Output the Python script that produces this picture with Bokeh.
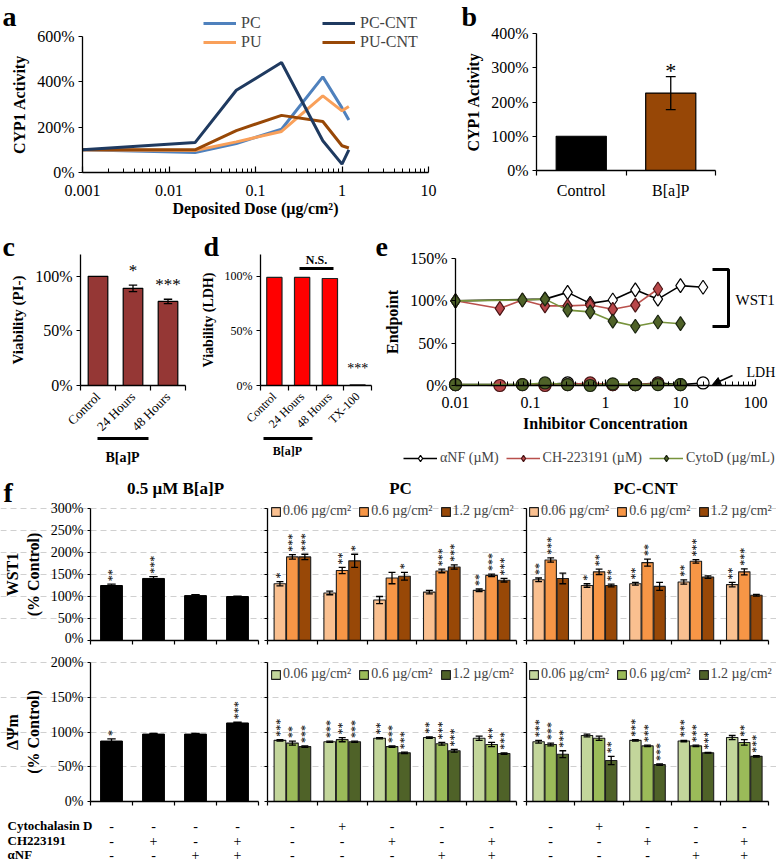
import numpy as np
from bokeh.plotting import figure
from bokeh.models import (ColumnDataSource, FixedTicker, Label, LabelSet, Legend, LegendItem,
                          Arrow, NormalHead, PrintfTickFormatter, CustomJSTickFormatter, Range1d)
from bokeh.layouts import column, row
from bokeh.core.properties import value
from bokeh.embed import file_html
from bokeh.resources import INLINE

K = 1.0
FONT = "Liberation Serif"
LEG_DY = 9  # offset from a legend's bottom edge to the centre of its bottom row

# ---------------- data ----------------
# panel a
a_dose = [0.001, 0.02, 0.06, 0.2, 0.6, 1.0, 1.2]
a_pc = [100, 88, 128, 191, 422, 285, 232]
a_pu = [100, 97, 135, 181, 338, 272, 291]
a_pc_cnt = [100, 132, 363, 485, 140, 37, 100]
a_pu_cnt = [100, 100, 185, 252, 225, 118, 108]
a_xticks = [0.001, 0.01, 0.1, 1, 10]
a_yticks = [0, 200, 400, 600]

# panel b
b_cats = ["Control", "B[a]P"]
b_vals = [100, 226]
b_err = [0, 48]
b_stars = ["", "*"]
b_yticks = [0, 100, 200, 300, 400]

# panel c
c_cats = ["Control", "24 Hours", "48 Hours"]
c_vals = [100, 89, 77]
c_err = [0, 3, 2]
c_stars = ["", "*", "***"]

# panel d
d_cats = ["Control", "24 Hours", "48 Hours", "TX-100"]
d_vals = [99, 99, 98, 0.5]
d_err = [0.3, 0.3, 0.5, 0.2]
d_stars = ["", "", "", "***"]
cd_yticks = [0, 50, 100]

# panel e
e_anf_x = [0.01, 0.156, 0.3125, 0.625, 1.25, 2.5, 5, 10, 20]
e_anf_wst = [100, 102, 110, 97, 101, 113, 102, 118, 116]
e_anf_ldh = [1, 1, 3, 1, 1, 1, 3, 1, 3]
e_ch_x = [0.01, 0.039, 0.078, 0.156, 0.3125, 0.625, 1.25, 2.5, 5]
e_ch_wst = [100, 91, 101, 94, 94, 95, 90, 95, 114]
e_ch_ldh = [1, 0, 1, 0, 1, 3, 1, 1, 2]
e_cd_x = [0.01, 0.078, 0.156, 0.3125, 0.625, 1.25, 2.5, 5, 10]
e_cd_wst = [100, 101, 102, 89, 87, 76, 70, 75, 73]
e_cd_ldh = [1, 1, 3, 1, 0, 2, 1, 1, 1]
e_xticks = [0.01, 0.1, 1, 10, 100]
e_yticks = [0, 50, 100, 150]

# panel f
f_dose_labels = ["0.06 µg/cm²", "0.6 µg/cm²", "1.2 µg/cm²"]
f_bap_wst = [125, 141, 102, 100]
f_bap_wst_err = [3, 4, 2, 1]
f_bap_wst_st = ["**", "***", "", ""]
f_bap_mmp = [87, 97, 97, 113]
f_bap_mmp_err = [3, 1, 1, 1]
f_bap_mmp_st = ["*", "", "", "***"]

f_pc_wst = [[129, 108, 92, 110, 114], [190, 159, 142, 158, 148], [190, 181, 146, 167, 137]]
f_pc_wst_err = [[5, 4, 8, 4, 3], [5, 7, 13, 4, 3], [6, 15, 9, 5, 4]]
f_pc_wst_st = [["*", "", "", "", "**"], ["***", "**", "", "***", "***"], ["***", "*", "*", "***", "***"]]
f_cnt_wst = [[138, 125, 129, 133, 127], [183, 156, 177, 180, 156], [141, 125, 123, 144, 103]]
f_cnt_wst_err = [[4, 4, 3, 5, 5], [5, 6, 8, 4, 7], [12, 3, 9, 3, 2]]
f_cnt_wst_st = [["**", "*", "**", "**", "**"], ["***", "**", "**", "***", "***"], ["", "**", "", "", ""]]

f_pc_mmp = [[88, 86, 91, 92, 91], [84, 89, 79, 83, 82], [79, 86, 70, 73, 69]]
f_pc_mmp_err = [[1, 1, 1, 1, 3], [3, 3, 1, 2, 3], [1, 1, 1, 2, 1]]
f_pc_mmp_st = [["***", "***", "**", "**", ""], ["**", "**", "***", "***", "**"], ["***", "***", "***", "***", "***"]]
f_cnt_mmp = [[86, 95, 88, 87, 92], [82, 91, 80, 80, 85], [68, 59, 53, 70, 65]]
f_cnt_mmp_err = [[2, 2, 1, 1, 3], [2, 3, 1, 1, 4], [5, 6, 1, 0.5, 1]]
f_cnt_mmp_st = [["***", "", "***", "***", ""], ["***", "", "***", "***", "**"], ["***", "**", "***", "***", "***"]]

t_rows = ["Cytochalasin D", "CH223191", "αNF"]
t_bap = [["-", "-", "-", "-"], ["-", "+", "-", "+"], ["-", "-", "+", "+"]]
t_np = [["-", "+", "-", "-", "-"], ["-", "-", "+", "-", "+"], ["-", "-", "-", "+", "+"]]

# ---------------- helpers ----------------

def make(bx, by, fx, fy, fxr, fyr, xlog=False):
    """bx, by: figure box (reference px); fx, fy: axes box (reference px);
    fxr, fyr: data ranges spanned by the axes."""
    def X(px):
        t = (px - fx[0]) / (fx[1] - fx[0])
        if xlog:
            l0, l1 = np.log10(fxr[0]), np.log10(fxr[1])
            return float(10 ** (l0 + t * (l1 - l0)))
        return fxr[0] + t * (fxr[1] - fxr[0])

    def Y(py):
        t = (fy[1] - py) / (fy[1] - fy[0])
        return fyr[0] + t * (fyr[1] - fyr[0])

    X0, X1 = round(K * bx[0]), round(K * bx[1])
    Y0, Y1 = round(K * by[0]), round(K * by[1])
    p = figure(width=X1 - X0, height=Y1 - Y0,
               min_border=0, min_border_left=0, min_border_right=0,
               min_border_top=0, min_border_bottom=0,
               x_range=Range1d(X(bx[0]), X(bx[1])), y_range=Range1d(Y(by[1]), Y(by[0])),
               x_axis_type="log" if xlog else "linear",
               output_backend="svg", toolbar_location=None)
    p.outline_line_color = None
    p.xgrid.visible = False
    p.ygrid.visible = False
    p.background_fill_color = "white"
    p.border_fill_color = "white"
    for ax in p.xaxis:
        ax.fixed_location = fyr[0]
        ax.bounds = fxr
    for ax in p.yaxis:
        ax.fixed_location = fxr[0]
        ax.bounds = fyr
    for ax in list(p.xaxis) + list(p.yaxis):
        ax.axis_line_color = "black"
        ax.axis_line_width = 1.3
        ax.major_tick_line_color = "black"
        ax.major_tick_line_width = 1.2
        ax.major_tick_in = 0
        ax.major_tick_out = 4
        ax.minor_tick_line_color = None
        ax.major_label_text_font = FONT
        ax.major_label_text_font_size = "16px"
        ax.major_label_text_color = "black"
        ax.major_label_standoff = 4
        ax.axis_label_text_font = FONT
        ax.axis_label_text_font_style = "bold"
        ax.axis_label_text_font_size = "16px"
        ax.axis_label_text_color = "black"
        ax.axis_label_standoff = 6
    return p, X, Y


def leg_loc(bx0, by1, x_ref, yc_ref):
    return (K * (x_ref - bx0), K * (by1 - yc_ref) - LEG_DY)


def lab(p, x, y, text, size, bold=False, align="left", baseline="middle", angle=0.0):
    p.add_layout(Label(x=x, y=y, text=text, text_font=FONT, text_font_size=size,
                       text_font_style="bold" if bold else "normal", text_align=align,
                       text_baseline=baseline, angle=angle, text_color="black"))


def seg(p, x0, y0, x1, y1, w=3, head=None):
    p.add_layout(Arrow(end=head, x_start=x0, y_start=y0, x_end=x1, y_end=y1,
                       line_width=w, line_color="black"))


def cat_axis(ax, labels, size="16px", orient=None, tick_out=5):
    n = len(labels)
    ax.ticker = FixedTicker(ticks=[i + 0.5 for i in range(n)], minor_ticks=list(range(n + 1)))
    ax.formatter = CustomJSTickFormatter(args=dict(labels=labels), code="return labels[index];")
    ax.major_tick_out = 0
    ax.major_tick_in = 0
    ax.minor_tick_line_color = "black"
    ax.minor_tick_line_width = 1.2
    ax.minor_tick_in = 0
    ax.minor_tick_out = tick_out
    ax.major_label_text_font_size = size
    if orient is not None:
        ax.major_label_orientation = orient


def pct_axis(ax, ticks, size="16px"):
    ax.ticker = FixedTicker(ticks=ticks)
    ax.formatter = PrintfTickFormatter(format="%d%%")
    ax.major_label_text_font_size = size


def errbars(p, xs, tops, errs, cap):
    xs = np.asarray(xs, float)
    tops = np.asarray(tops, float)
    errs = np.asarray(errs, float)
    m = errs > 0
    xs, tops, errs = xs[m], tops[m], errs[m]
    p.segment(x0=xs, y0=tops - errs, x1=xs, y1=tops + errs, line_color="black", line_width=1.3)
    p.segment(x0=xs - cap, y0=tops + errs, x1=xs + cap, y1=tops + errs, line_color="black", line_width=1.3)
    p.segment(x0=xs - cap, y0=tops - errs, x1=xs + cap, y1=tops - errs, line_color="black", line_width=1.3)

# ---------------- panel a ----------------
A_BX, A_BY = (0, 458), (0, 222)
pa, Xa, Ya = make(A_BX, A_BY, (82, 428), (36, 172), (0.001, 10), (0, 600), xlog=True)
xa = pa.xaxis[0]
xa.ticker = FixedTicker(ticks=a_xticks,
                        minor_ticks=[m * 10.0 ** e for e in range(-3, 1) for m in range(2, 10)])
xa.formatter = CustomJSTickFormatter(code="return tick.toString();")
xa.major_tick_in = 6
xa.major_tick_out = 0
xa.minor_tick_line_color = "black"
xa.minor_tick_in = 4
xa.minor_tick_out = 0
xa.major_label_standoff = 12
xa.axis_label = "Deposited Dose (µg/cm²)"
xa.axis_label_standoff = 1
pct_axis(pa.yaxis[0], a_yticks)
pa.yaxis[0].axis_label = "CYP1 Activity"
ra = {}
for name, ys, colr in [("PC", a_pc, "#4F81BD"), ("PU", a_pu, "#F9A05A"),
                       ("PU-CNT", a_pu_cnt, "#984807"), ("PC-CNT", a_pc_cnt, "#1F3A60")]:
    ra[name] = pa.line(a_dose, ys, line_color=colr, line_width=3)
leg_a = Legend(items=[LegendItem(label=n, renderers=[ra[n]]) for n in ["PC", "PU", "PC-CNT", "PU-CNT"]],
               location=leg_loc(A_BX[0], A_BY[1], 203, 42), ncols=2, orientation="vertical",
               glyph_width=33, glyph_height=16, label_height=16, label_width=80, spacing=1,
               padding=0, margin=0, label_standoff=5, border_line_color=None,
               background_fill_alpha=0, label_text_font=FONT, label_text_font_size="16px")
pa.add_layout(leg_a)
lab(pa, Xa(2), Ya(16), "a", "28px", bold=True)

# ---------------- panel b ----------------
pb, Xb, Yb = make((458, 776), A_BY, (536, 715), (33, 170), (0, 2), (0, 400))
cat_axis(pb.xaxis[0], b_cats)
pb.xaxis[0].major_label_standoff = 6
pct_axis(pb.yaxis[0], b_yticks)
pb.yaxis[0].axis_label = "CYP1 Activity"
bx = [i + 0.5 for i in range(len(b_cats))]
pb.vbar(x=bx, top=b_vals, width=0.56, fill_color=["black", "#974706"], line_color="black", line_width=1.2)
errbars(pb, bx, b_vals, b_err, 0.055)
pb.text(x=bx, y=[v + e + 18 for v, e in zip(b_vals, b_err)], text=b_stars, text_align="center",
        text_baseline="middle", text_font=value(FONT), text_font_size="22px")
lab(pb, Xb(461), Yb(16), "b", "28px", bold=True)

# ---------------- panel c ----------------
R2_BY = (222, 470)
pcf, Xc, Yc = make((0, 190), R2_BY, (80, 185), (254, 385), (0, 3), (0, 120))
cat_axis(pcf.xaxis[0], c_cats, size="13px", orient=np.pi / 4)
pct_axis(pcf.yaxis[0], cd_yticks)
pcf.yaxis[0].axis_label = "Viability (PI-)"
pcf.yaxis[0].axis_label_text_font_size = "15px"
cx = [i + 0.5 for i in range(len(c_cats))]
pcf.vbar(x=cx, top=c_vals, width=0.56, fill_color="#953735", line_color="black", line_width=1.2)
errbars(pcf, cx, c_vals, c_err, 0.12)
pcf.text(x=cx, y=[v + e + 5 for v, e in zip(c_vals, c_err)], text=c_stars, text_align="center",
         text_baseline="bottom", text_font=value(FONT), text_font_size="17px")
seg(pcf, Xc(97), Yc(438), Xc(148), Yc(438))
lab(pcf, Xc(122), Yc(457), "B[a]P", "14px", bold=True, align="center")
lab(pcf, Xc(2), Yc(246), "c", "28px", bold=True)

# ---------------- panel d ----------------
pdf, Xd, Yd = make((190, 373), R2_BY, (260, 371), (254, 385), (0, 4), (0, 120))
cat_axis(pdf.xaxis[0], d_cats, size="12px", orient=np.pi / 4)
pct_axis(pdf.yaxis[0], cd_yticks, size="12px")
pdf.yaxis[0].axis_label = "Viability (LDH)"
pdf.yaxis[0].axis_label_text_font_size = "14px"
dx = [i + 0.5 for i in range(len(d_cats))]
pdf.vbar(x=dx, top=d_vals, width=0.55, fill_color="#FF0000", line_color="#222222", line_width=1.2)
pdf.text(x=dx, y=[v + e + 8 for v, e in zip(d_vals, d_err)], text=d_stars, text_align="center",
         text_baseline="bottom", text_font=value(FONT), text_font_size="14px")
seg(pdf, Xd(299), Yd(268), Xd(333), Yd(268))
lab(pdf, Xd(316), Yd(266), "N.S.", "12px", bold=True, align="center", baseline="bottom")
seg(pdf, Xd(263), Yd(438), Xd(312), Yd(438))
lab(pdf, Xd(287), Yd(450), "B[a]P", "12px", bold=True, align="center")
lab(pdf, Xd(203), Yd(246), "d", "28px", bold=True)

# ---------------- panel e ----------------
E_BX = (373, 776)
pe, Xe, Ye = make(E_BX, R2_BY, (455, 755), (258, 385), (0.01, 100), (0, 150), xlog=True)
xe = pe.xaxis[0]
xe.ticker = FixedTicker(ticks=e_xticks,
                        minor_ticks=[m * 10.0 ** e for e in range(-2, 2) for m in range(2, 10)])
xe.formatter = CustomJSTickFormatter(code="return tick.toString();")
xe.major_tick_in = 6
xe.major_tick_out = 0
xe.minor_tick_line_color = "black"
xe.minor_tick_in = 4
xe.minor_tick_out = 0
xe.major_label_standoff = 11
xe.axis_label = "Inhibitor Concentration"
xe.axis_label_standoff = 4
pct_axis(pe.yaxis[0], e_yticks)
pe.yaxis[0].axis_label = "Endpoint"
e_items = []
for name, xs, w, l, lc, fc, oc in [
        ("αNF (µM)", e_anf_x, e_anf_wst, e_anf_ldh, "black", "white", "black"),
        ("CH-223191 (µM)", e_ch_x, e_ch_wst, e_ch_ldh, "#B9504C", "#B9474A", "#4A1515"),
        ("CytoD (µg/mL)", e_cd_x, e_cd_wst, e_cd_ldh, "#77933C", "#4F6228", "#1A2410")]:
    l1 = pe.line(xs, w, line_color=lc, line_width=1.6)
    pe.line(xs, l, line_color=lc, line_width=1.6)
    m1 = pe.scatter(xs, w, marker="diamond", size=14, fill_color=fc, line_color=oc, line_width=1.2)
    pe.scatter(xs, l, marker="circle", size=12, fill_color=fc, line_color=oc, line_width=1.2)
    e_items.append(LegendItem(label=name, renderers=[l1, m1]))
leg_e = Legend(items=e_items, location=leg_loc(E_BX[0], R2_BY[1], 403, 457), orientation="horizontal",
               glyph_width=34, glyph_height=16, label_height=16, spacing=7, padding=0, margin=0,
               label_standoff=3, border_line_color=None, background_fill_alpha=0,
               label_text_font=FONT, label_text_font_size="14px")
pe.add_layout(leg_e)
br_x0, br_x1, br_y0, br_y1 = Xe(712), Xe(728), Ye(269), Ye(326)
pe.line([br_x0, br_x1, br_x1, br_x0], [br_y0, br_y0, br_y1, br_y1], line_color="black", line_width=3)
lab(pe, Xe(735), Ye(299), "WST1", "15px")
lab(pe, Xe(746), Ye(372), "LDH", "14px")
seg(pe, Xe(732), Ye(375), Xe(712), Ye(384), w=1.5,
    head=NormalHead(size=8, fill_color="black", line_color="black"))
lab(pe, Xe(375), Ye(246), "e", "28px", bold=True)

# ---------------- panel f ----------------
f_top_colors = ["#FAC090", "#F79646", "#984807"]
f_bot_colors = ["#C3D69B", "#9BBB59", "#4F6228"]
f_offsets = [-0.25, 0.0, 0.25]
f_boxes = [(0, 262), (262, 520), (520, 776)]
f_frames = [(90, 258), (267, 516), (526, 768)]
f_titles = ["0.5 µM B[a]P", "PC", "PC-CNT"]
f_title_x = [175, 400, 645]
f_leg_x = [0, 270, 528]


def f_panel(ci, top):
    if top:
        by, fy, yr = (470, 645), (508, 640), (0, 300)
    else:
        by, fy, yr = (645, 863), (662, 801), (0, 200)
    n = 4 if ci == 0 else 5
    p, X, Y = make(f_boxes[ci], by, f_frames[ci], fy, (0, n), yr)
    p.ygrid.visible = True
    p.ygrid[0].ticker = FixedTicker(ticks=list(range(50, yr[1] + 1, 50)))
    p.ygrid[0].bounds = (0, n)
    p.ygrid.grid_line_color = "#D0D0D0"
    p.ygrid.grid_line_dash = "6 4"
    p.ygrid.grid_line_width = 1.2
    xa_ = p.xaxis[0]
    xa_.ticker = FixedTicker(ticks=[], minor_ticks=list(range(n + 1)))
    xa_.minor_tick_line_color = "black"
    xa_.minor_tick_line_width = 1.2
    xa_.minor_tick_in = 0
    xa_.minor_tick_out = 4
    ya_ = p.yaxis[0]
    if ci > 0:
        ya_.ticker = FixedTicker(ticks=[], minor_ticks=list(range(0, yr[1] + 1, 50)))
        ya_.minor_tick_line_color = "black"
        ya_.minor_tick_in = 0
        ya_.minor_tick_out = 3
    else:
        pct_axis(ya_, list(range(0, yr[1] + 1, 50)), size="14px")
        ya_.major_tick_out = 3
        ya_.axis_label = "WST1\n(% Control)" if top else "ΔΨm\n(% Control)"
        ya_.axis_label_text_font_size = "16px"
        ya_.axis_label_standoff = 6
    gap = 3 * (yr[1] - yr[0]) / (fy[1] - fy[0])
    if ci == 0:
        vals, errs, st = (f_bap_wst, f_bap_wst_err, f_bap_wst_st) if top else (f_bap_mmp, f_bap_mmp_err, f_bap_mmp_st)
        xs = [i + 0.5 for i in range(n)]
        p.vbar(x=xs, top=vals, width=0.52, fill_color="black", line_color="black")
        errbars(p, xs, vals, errs, 0.1)
        p.text(x=xs, y=[v + e + gap for v, e in zip(vals, errs)], text=st, angle=np.pi / 2,
               text_align="left", text_baseline="middle", text_font=value(FONT), text_font_size="12px")
        tdata = t_bap
    else:
        if top:
            vals, errs, st = (f_pc_wst, f_pc_wst_err, f_pc_wst_st) if ci == 1 else (f_cnt_wst, f_cnt_wst_err, f_cnt_wst_st)
            cols = f_top_colors
        else:
            vals, errs, st = (f_pc_mmp, f_pc_mmp_err, f_pc_mmp_st) if ci == 1 else (f_cnt_mmp, f_cnt_mmp_err, f_cnt_mmp_st)
            cols = f_bot_colors
        items = []
        for k in range(3):
            xs = [g + 0.5 + f_offsets[k] for g in range(n)]
            r = p.vbar(x=xs, top=vals[k], width=0.235, fill_color=cols[k], line_color="#1E1E1E", line_width=1.1)
            items.append(LegendItem(label=f_dose_labels[k], renderers=[r]))
            errbars(p, xs, vals[k], errs[k], 0.07)
            p.text(x=xs, y=[v + e + gap for v, e in zip(vals[k], errs[k])], text=st[k], angle=np.pi / 2,
                   text_align="left", text_baseline="middle", text_font=value(FONT), text_font_size="12px")
        ly = 510 if top else 673
        leg = Legend(items=items, location=leg_loc(f_boxes[ci][0], by[1], f_leg_x[ci], ly),
                     orientation="horizontal",
                     glyph_width=11, glyph_height=11, label_height=14, spacing=7, padding=0, margin=0,
                     label_standoff=2, border_line_color=None, background_fill_alpha=0,
                     label_text_font=FONT, label_text_font_size="14px")
        p.add_layout(leg)
        tdata = t_np
    if top:
        lab(p, X(f_title_x[ci]), Y(488), f_titles[ci], "17px", bold=True, align="center")
        if ci == 0:
            lab(p, X(3), Y(492), "f", "28px", bold=True)
    else:
        ry = [825, 840, 854]
        src = ColumnDataSource(dict(
            x=[g + 0.5 for r in range(3) for g in range(n)],
            y=[Y(ry[r]) for r in range(3) for g in range(n)],
            t=[tdata[r][g] for r in range(3) for g in range(n)]))
        p.add_layout(LabelSet(x="x", y="y", text="t", source=src, text_align="center",
                              text_baseline="middle", text_font=value(FONT), text_font_size="14px",
                              text_color="black"))
        if ci == 0:
            for r in range(3):
                lab(p, X(7), Y(ry[r]), t_rows[r], "13px", bold=True)
    return p


f_top = [f_panel(i, True) for i in range(3)]
f_bot = [f_panel(i, False) for i in range(3)]

layout = column(row(pa, pb), row(pcf, pdf, pe), row(*f_top), row(*f_bot))
open("out.html", "w").write(file_html(layout, INLINE))
